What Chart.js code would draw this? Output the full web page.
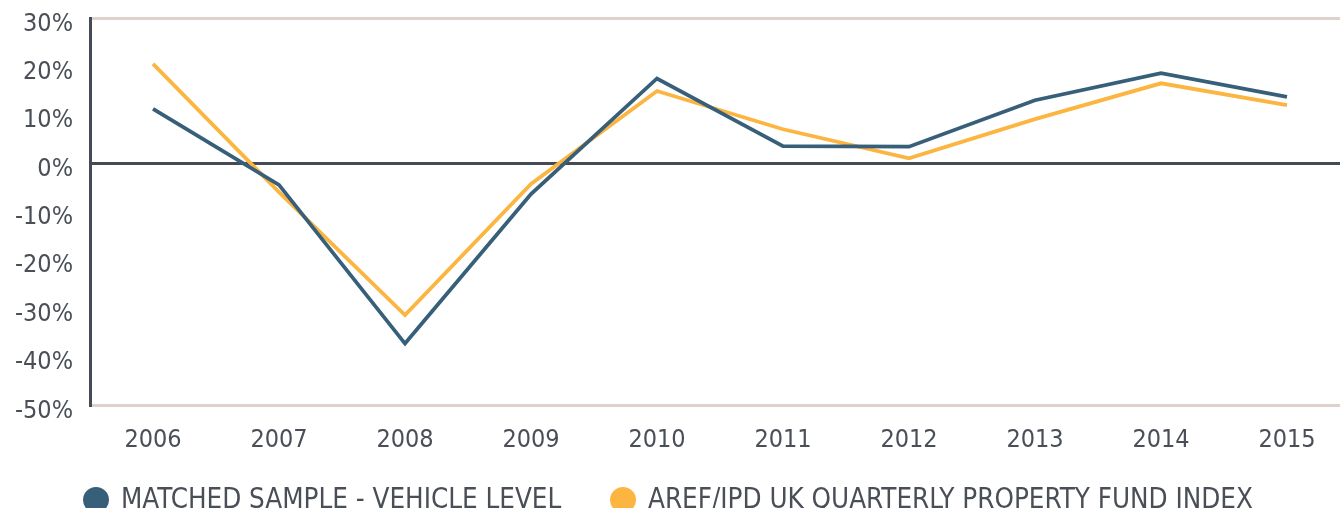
<!DOCTYPE html>
<html>
<head>
<meta charset="utf-8">
<script src="https://cdn.jsdelivr.net/npm/chart.js@4.4.0/dist/chart.umd.min.js"></script>
<style>
  html, body { margin: 0; padding: 0; background: #fff; overflow: hidden; width: 1340px; height: 508px; }
  canvas { display: block; }
</style>
</head>
<body>
<canvas id="c" width="1350" height="508" style="width:1350px;height:508px"></canvas>
<script>
const categories = ['2006','2007','2008','2009','2010','2011','2012','2013','2014','2015'];
const matchedSample = [11.2, -4.5, -37.3, -6.4, 17.5, 3.5, 3.4, 13.0, 18.6, 13.7];
const arefIpdIndex = [20.5, -6.0, -31.4, -4.3, 14.9, 7.0, 1.0, 9.1, 16.5, 12.0];
const seriesNames = ['MATCHED SAMPLE - VEHICLE LEVEL', 'AREF/IPD UK QUARTERLY PROPERTY FUND INDEX'];
const yTicks = [30, 20, 10, 0, -10, -20, -30, -40, -50];

const FONT = "'Liberation Sans Narrow', 'DejaVu Sans Condensed', 'Roboto', sans-serif";
const TEXT = '#4a4f57';
const BLUE = '#375f79';
const ORANGE = '#fbb540';

const legendPlugin = {
  id: 'customLegend',
  afterDraw(chart) {
    const ctx = chart.ctx;
    const items = [
      {x: 96, tx: 121, color: BLUE, text: chart.data.datasets[0].label},
      {x: 623, tx: 648, color: ORANGE, text: chart.data.datasets[1].label}
    ];
    ctx.save();
    ctx.font = '27.5px ' + FONT;
    ctx.textBaseline = 'alphabetic';
    ctx.textAlign = 'left';
    items.forEach(it => {
      ctx.fillStyle = it.color;
      ctx.beginPath();
      ctx.ellipse(it.x, 500, 13, 13, 0, 0, Math.PI * 2);
      ctx.fill();
      ctx.fillStyle = TEXT;
      ctx.fillText(it.text, it.tx, 508);
    });
    ctx.restore();
  }
};

new Chart(document.getElementById('c'), {
  type: 'line',
  data: {
    labels: categories,
    datasets: [
      {label: seriesNames[0], data: matchedSample, borderColor: BLUE, backgroundColor: BLUE, borderWidth: 3.8, pointRadius: 0, tension: 0, order: 1},
      {label: seriesNames[1], data: arefIpdIndex, borderColor: ORANGE, backgroundColor: ORANGE, borderWidth: 3.8, pointRadius: 0, tension: 0, order: 2}
    ]
  },
  options: {
    responsive: false,
    animation: false,
    layout: {padding: {top: 18, left: 0, right: 0, bottom: 0}},
    plugins: {legend: {display: false}, tooltip: {enabled: false}},
    scales: {
      x: {
        offset: true,
        grid: {display: false, drawTicks: false},
        border: {display: true, color: '#ddd3cc', width: 3},
        ticks: {color: TEXT, font: {family: FONT, size: 25}, padding: 20, maxRotation: 0, autoSkip: false},
        afterFit(scale) { scale.height = 103; scale.paddingLeft = 0; scale.paddingRight = 0; }
      },
      y: {
        min: -50, max: 30,
        afterBuildTicks(scale) { scale.ticks = yTicks.map(v => ({value: v})); },
        grid: {
          drawTicks: false,
          color: c => c.tick.value === 0 ? '#454b54' : (c.tick.value === 30 ? '#ddd3cc' : 'rgba(0,0,0,0)'),
          lineWidth: c => (c.tick.value === 0 || c.tick.value === 30) ? 3 : 0
        },
        border: {display: true, color: '#454b54', width: 3},
        ticks: {color: TEXT, font: {family: FONT, size: 25}, padding: 17, labelOffset: 6, callback: v => v + '%'},
        afterFit(scale) { scale.width = 90; scale.paddingTop = 0; scale.paddingBottom = 0; }
      }
    }
  },
  plugins: [legendPlugin]
});
</script>
</body>
</html>
